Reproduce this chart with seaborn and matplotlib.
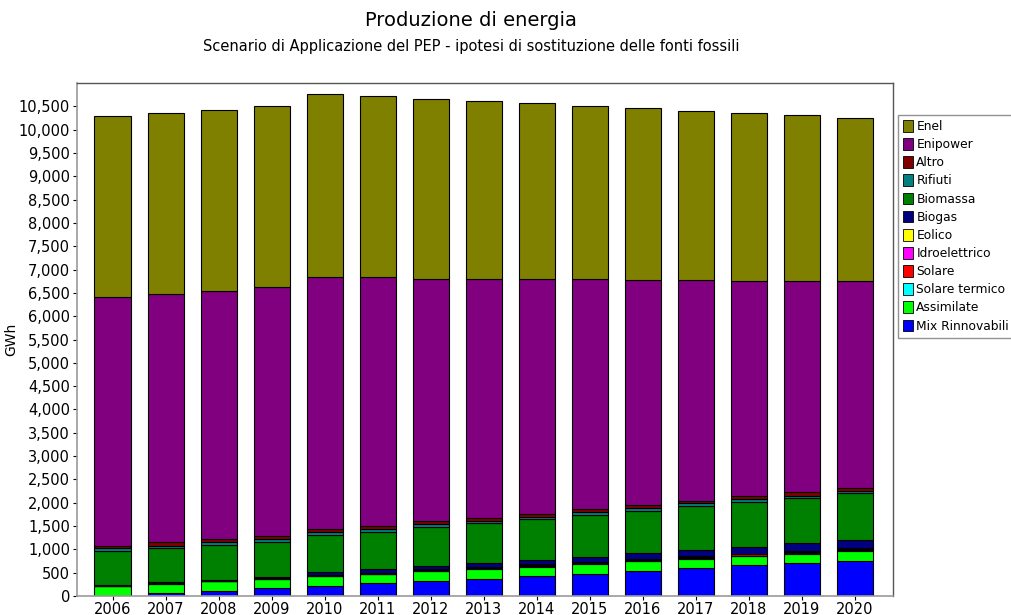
import numpy as np
import pandas as pd
import matplotlib
matplotlib.use("Agg")
import matplotlib.pyplot as plt
import matplotlib.ticker as mticker
from matplotlib.patches import Patch
import seaborn as sns

# 1. Data (GWh)
YEARS = [str(y) for y in range(2006, 2021)]

mix_rinnovabili = [5, 60, 100, 164, 214, 271, 321, 371, 428, 464, 536, 600, 657, 700, 750]
assimilate = [209, 204, 214, 200, 207, 193, 215, 215, 200, 222, 207, 200, 193, 207, 214]
solare_termico = [0, 2, 2, 3, 8, 8, 10, 10, 12, 12, 14, 14, 15, 15, 15]
solare = [2, 3, 3, 4, 5, 8, 10, 12, 15, 15, 20, 20, 25, 30, 35]
idroelettrico = [2, 3, 3, 12, 10, 14, 14, 15, 16, 20, 15, 18, 15, 15, 12]
eolico = [10, 8, 8, 5, 5, 5, 5, 5, 5, 5, 5, 5, 5, 5, 5]
biogas = [15, 20, 5, 12, 58, 72, 75, 72, 95, 105, 124, 122, 133, 157, 162]
biomassa = [721, 736, 765, 764, 800, 808, 836, 857, 879, 893, 908, 942, 971, 964, 1007]
rifiuti = [57, 43, 57, 50, 57, 57, 50, 57, 50, 64, 57, 64, 57, 57, 57]
altro = [50, 71, 57, 78, 64, 71, 71, 64, 64, 57, 57, 57, 64, 71, 57]
enipower = [5330, 5320, 5326, 5327, 5421, 5328, 5198, 5121, 5031, 4933, 4842, 4727, 4629, 4539, 4436]
enel = [3900, 3895, 3890, 3880, 3910, 3880, 3845, 3815, 3775, 3717, 3672, 3637, 3600, 3555, 3507]

# stacking order, bottom to top
SERIES = [
    ("Mix Rinnovabili", mix_rinnovabili, "#0000FF"),
    ("Assimilate", assimilate, "#00FF00"),
    ("Solare termico", solare_termico, "#00FFFF"),
    ("Solare", solare, "#FF0000"),
    ("Idroelettrico", idroelettrico, "#FF00FF"),
    ("Eolico", eolico, "#FFFF00"),
    ("Biogas", biogas, "#000080"),
    ("Biomassa", biomassa, "#008000"),
    ("Rifiuti", rifiuti, "#008080"),
    ("Altro", altro, "#800000"),
    ("Enipower", enipower, "#800080"),
    ("Enel", enel, "#808000"),
]

# 2. Style
sns.set_style("white")
plt.rcParams["font.family"] = ["DejaVu Sans"]
plt.rcParams["text.color"] = "black"
plt.rcParams["axes.labelcolor"] = "black"
plt.rcParams["xtick.color"] = "black"
plt.rcParams["ytick.color"] = "black"

fig = plt.figure(figsize=(10.11, 6.15), dpi=100)
ax = fig.add_axes([77 / 1011, 1 - 596 / 615, (893 - 77) / 1011, (596 - 83) / 615])

# 3. Stacked bars
bottom = np.zeros(len(YEARS))
for name, values, color in SERIES:
    df = pd.DataFrame({"year": YEARS, "value": values})
    sns.barplot(data=df, x="year", y="value", color=color, width=0.68,
                bottom=bottom, edgecolor="black", linewidth=0.8,
                saturation=1, ax=ax, errorbar=None)
    bottom = bottom + np.array(values)

# 4. Axes formatting
ax.set_xlim(-0.67, len(YEARS) - 1 + 0.72)
ax.set_ylim(0, 11000)
ax.set_yticks(np.arange(0, 10501, 500))
ax.yaxis.set_major_formatter(mticker.StrMethodFormatter("{x:,.0f}"))
ax.set_xlabel("")
ax.set_ylabel("GWh", fontsize=10)
ax.yaxis.set_label_coords(-0.072, 0.5)
ax.tick_params(axis="both", labelsize=10.5, length=3, direction="out",
               left=True, bottom=True, labelcolor="black")
ax.tick_params(axis="x", pad=1)
ax.tick_params(axis="y", pad=2)
for side in ["left", "bottom"]:
    ax.spines[side].set_color("#999999")
    ax.spines[side].set_linewidth(1.2)
for side in ["top", "right"]:
    ax.spines[side].set_color("#555555")
    ax.spines[side].set_linewidth(1.0)

# 5. Titles
fig.text(471 / 1011, 1 - 20 / 615, "Produzione di energia", ha="center", va="center",
         fontsize=14, color="black")
fig.text(471 / 1011, 1 - 47 / 615, "Scenario di Applicazione del PEP - ipotesi di sostituzione delle fonti fossili",
         ha="center", va="center", fontsize=10.5, color="black")

# 6. Legend (top to bottom: Enel ... Mix Rinnovabili)
handles = [Patch(facecolor=c, edgecolor="black", linewidth=0.6, label=n) for n, _, c in reversed(SERIES)]
leg = fig.legend(handles=handles, loc="upper left", bbox_to_anchor=(898 / 1011, 1 - 115 / 615),
                 fontsize=8.8, frameon=True, fancybox=False, handlelength=0.85, handleheight=1.1,
                 handletextpad=0.25, labelspacing=0.42, borderpad=0.4, borderaxespad=0)
leg.get_frame().set_edgecolor("#777777")
leg.get_frame().set_linewidth(1.0)

fig.savefig("out.png", dpi=100)
print("Saved: out.png")
